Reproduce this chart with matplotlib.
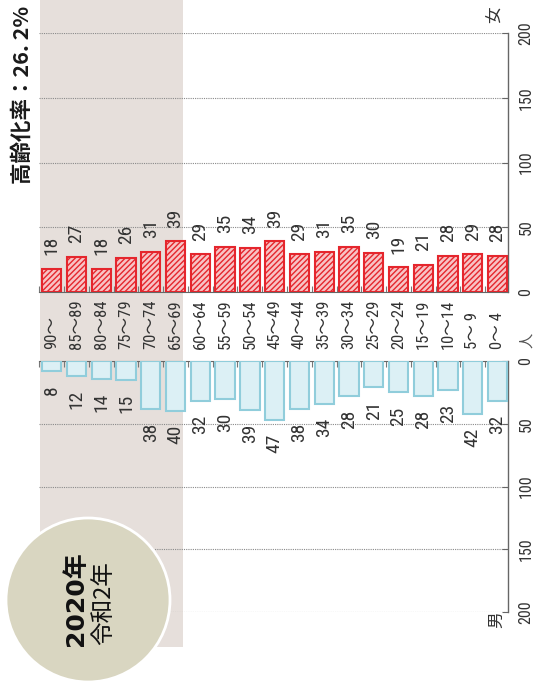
import matplotlib
matplotlib.use("Agg")
import matplotlib.pyplot as plt
from matplotlib import font_manager as fm
from matplotlib.patches import Rectangle, Circle
from matplotlib.transforms import blended_transform_factory
import numpy as np

# ---------------- data ----------------
ages = ['90～', '85～89', '80～84', '75～79', '70～74', '65～69', '60～64', '55～59',
        '50～54', '45～49', '40～44', '35～39', '30～34', '25～29', '20～24', '15～19',
        '10～14', '5～ 9', '0～ 4']
female = [18, 27, 18, 26, 31, 39, 29, 35, 34, 39, 29, 31, 35, 30, 19, 21, 28, 29, 28]
male = [8, 12, 14, 15, 38, 40, 32, 30, 39, 47, 38, 34, 28, 21, 25, 28, 23, 42, 32]
value_ticks = [0, 50, 100, 150, 200]
title = '高齢化率：26. 2%'
badge_line1 = '2020年'
badge_line2 = '令和2年'

# ---------------- fonts ----------------
names = {f.name for f in fm.fontManager.ttflist}
NUM = 'DejaVu Sans'
for cand in ['Liberation Sans Narrow', 'Roboto Condensed', 'DejaVu Sans Condensed',
             'Liberation Sans']:
    if cand in names:
        NUM = cand
        break
CJK = 'Noto Sans CJK JP'
numfam = [NUM, CJK, 'DejaVu Sans']

W, H = 538, 684
fig = plt.figure(figsize=(W / 100, H / 100), dpi=100)
fig.patch.set_facecolor('white')

# shaded 65+ band
fig.patches.append(Rectangle((40 / W, 37 / H), (183 - 40) / W, 1 - 37 / H,
                             transform=fig.transFigure, facecolor='#e6dfdb',
                             edgecolor='none', zorder=-5))

x = np.arange(len(ages))
left = 39.3 / W
width = 468.2 / W
axF = fig.add_axes([left, (H - 292) / H, width, 259 / H])
axM = fig.add_axes([left, (H - 612) / H, width, 251 / H])

grid_kw = dict(color='#8a8a8a', linestyle=(0, (1, 1)), linewidth=0.8)
txtcol = '#333333'

for ax, vals, is_f in [(axF, female, True), (axM, male, False)]:
    ax.patch.set_alpha(0)
    if is_f:
        ax.bar(x, vals, width=0.78, facecolor='#f8c3c5', edgecolor='#e5262d',
               linewidth=1.5, hatch='//////', zorder=3)
        ax.set_ylim(0, 200)
    else:
        ax.bar(x, vals, width=0.78, facecolor='#dcf0f5', edgecolor='#90cddb',
               linewidth=1.5, zorder=3)
        ax.set_ylim(200, 0)
    ax.set_xlim(-0.5, 18.4)
    ax.set_yticks(value_ticks)
    ax.yaxis.grid(True, **grid_kw)
    ax.set_axisbelow(True)
    ax.set_xticks(np.arange(-0.5, 18.5, 1.0))
    ax.tick_params(axis='x', direction='in', length=4, width=0.8, color='#777777',
                   labelbottom=False, labeltop=False,
                   bottom=is_f, top=not is_f)
    ax.yaxis.tick_right()
    ax.tick_params(axis='y', direction='in', length=4, width=0.8, color='#666666',
                   pad=8, labelsize=11.5, labelcolor=txtcol, labelrotation=90)
    for t in ax.yaxis.get_major_ticks():
        t.label2.set_verticalalignment('center')
        t.label2.set_horizontalalignment('left')
        t.label2.set_fontfamily(numfam)
    ax.spines['left'].set_visible(False)
    ax.spines['right'].set_color('#666666')
    ax.spines['right'].set_linewidth(1.0)
    if is_f:
        ax.spines['top'].set_visible(False)
        ax.spines['bottom'].set_color('#666666')
    else:
        ax.spines['bottom'].set_visible(False)
        ax.spines['top'].set_color('#666666')
    # value labels
    for i, v in zip(x, vals):
        ax.annotate(str(v), (i, v), xytext=(0, 10 if is_f else -10),
                    textcoords='offset points', rotation=90, ha='center',
                    va='bottom' if is_f else 'top', fontsize=14,
                    color=txtcol, family=numfam, zorder=4)

# age labels between panels
tr = blended_transform_factory(axF.transData, fig.transFigure)
for i, a in zip(x, ages):
    axF.text(i, 1 - 349 / H, a, transform=tr, rotation=90, ha='center',
             va='bottom', fontsize=12, color=txtcol, family=numfam, clip_on=False)

fig.text(527 / W, 1 - 340 / H, '人', rotation=90, ha='center', va='center',
         fontsize=11, color='#555555', family=CJK)
fig.text(495 / W, 1 - 15 / H, '女', rotation=90, ha='center', va='center',
         fontsize=12, color=txtcol, family=CJK)
fig.text(497 / W, 1 - 620 / H, '男', rotation=90, ha='center', va='center',
         fontsize=12, color=txtcol, family=CJK)

fig.text(22 / W, 1 - 95 / H, title, rotation=90, ha='center', va='center',
         fontsize=15.5, fontweight='bold', color='#1a1a1a', family=[CJK, 'DejaVu Sans'])

# year badge
fig.patches.append(Circle((0.88, 0.84), 0.82, transform=fig.dpi_scale_trans,
                          facecolor='#d9d6c1', edgecolor='white', linewidth=2,
                          zorder=10))
fig.text(76 / W, 1 - 599 / H, badge_line1, rotation=90, ha='center', va='center',
         fontsize=18, fontweight='bold', color='#111111',
         family=['DejaVu Sans', CJK], zorder=11)
fig.text(104 / W, 1 - 603 / H, badge_line2, rotation=90, ha='center', va='center',
         fontsize=17, color='#111111', family=[CJK, 'DejaVu Sans'], zorder=11)

fig.savefig('out.png', dpi=100)
